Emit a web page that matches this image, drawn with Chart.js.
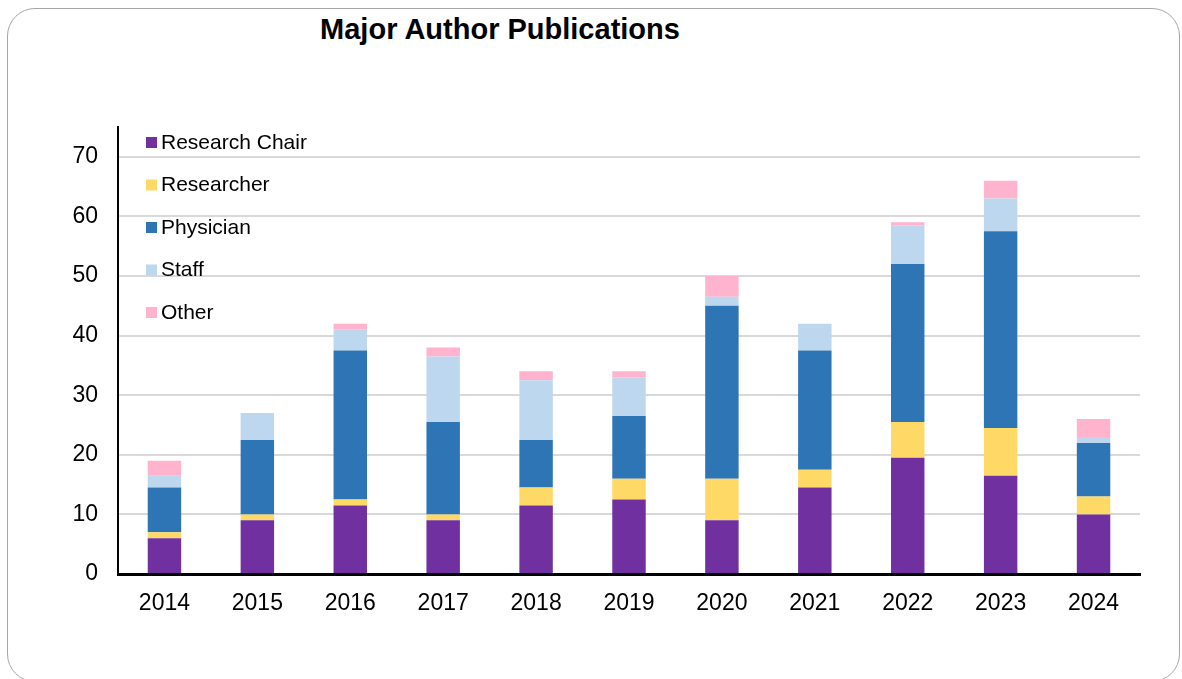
<!DOCTYPE html>
<html>
<head>
<meta charset="utf-8">
<script src="https://cdn.jsdelivr.net/npm/chart.js@4.4.1/dist/chart.umd.min.js"></script>
<style>
  html,body{margin:0;padding:0;background:#fff;}
  body{width:1182px;height:679px;position:relative;overflow:hidden;font-family:"Liberation Sans",Arial,sans-serif;}
  #frame{position:absolute;left:7px;top:8px;width:1173px;height:674px;border:1.5px solid #a6a6a6;border-radius:28px;box-sizing:border-box;}
  #title{position:absolute;left:250px;width:500px;top:13px;text-align:center;font-weight:bold;font-size:29px;color:#000;}
  #wrap{position:absolute;left:0;top:0;width:1182px;height:679px;}
</style>
</head>
<body>
<div id="frame"></div>
<div id="title">Major Author Publications</div>
<div id="wrap"><canvas id="chart"></canvas></div>
<script>
// data
const years = ["2014","2015","2016","2017","2018","2019","2020","2021","2022","2023","2024"];
const researchChair = [6, 9, 11.5, 9, 11.5, 12.5, 9, 14.5, 19.5, 16.5, 10];
const researcher    = [1, 1, 1, 1, 3, 3.5, 7, 3, 6, 8, 3];
const physician     = [7.5, 12.5, 25, 15.5, 8, 10.5, 29, 20, 26.5, 33, 9];
const staff         = [2, 4.5, 3.5, 11, 10, 6.5, 1.5, 4.5, 6.5, 5.5, 1];
const other         = [2.5, 0, 1, 1.5, 1.5, 1, 3.5, 0, 0.5, 3, 3];
const yTicks = [0, 10, 20, 30, 40, 50, 60, 70];

const colors = {
  chair:"#7030a0", researcher:"#ffd966", physician:"#2e75b6", staff:"#bdd7ee", other:"#ffb3cc"
};
const fontFam = "'Liberation Sans', Arial, sans-serif";

function ds(label,data,color){
  return {label, data, backgroundColor:color, borderWidth:0,
    barPercentage:0.36, categoryPercentage:1};
}

// legend drawn inside the plot, top-left
const innerLegend = {
  id:"innerLegend",
  afterDraw(chart){
    const ctx = chart.ctx;
    const x0 = chart.chartArea.left + 28;
    const y0 = chart.chartArea.top + 15;
    ctx.save();
    ctx.font = "21px " + fontFam;
    ctx.textBaseline = "middle";
    chart.data.datasets.forEach((d,i)=>{
      const y = y0 + i*42.5;
      ctx.fillStyle = d.backgroundColor;
      ctx.fillRect(x0, y-5, 11, 11);
      ctx.fillStyle = "#000";
      ctx.fillText(d.label, x0+15, y+1);
    });
    ctx.restore();
  }
};

new Chart(document.getElementById("chart"),{
  type:"bar",
  data:{
    labels:years,
    datasets:[
      ds("Research Chair",researchChair,colors.chair),
      ds("Researcher",researcher,colors.researcher),
      ds("Physician",physician,colors.physician),
      ds("Staff",staff,colors.staff),
      ds("Other",other,colors.other)
    ]
  },
  options:{
    responsive:true,
    maintainAspectRatio:false,
    animation:false,
    layout:{padding:{left:0,top:127,right:42,bottom:0}},
    plugins:{legend:{display:false},title:{display:false},tooltip:{enabled:false}},
    scales:{
      x:{
        stacked:true,
        grid:{display:false,drawTicks:false},
        border:{color:"#000",width:3},
        ticks:{color:"#000",font:{size:23,family:fontFam},padding:16},
        afterFit(s){ s.height = 105; }
      },
      y:{
        stacked:true,
        min:0,max:75,
        afterBuildTicks(s){ s.ticks = yTicks.map(v=>({value:v})); },
        grid:{color:c=>c.tick && c.tick.value===0 ? "rgba(0,0,0,0)" : "#d9d9d9",lineWidth:2,drawTicks:false},
        border:{color:"#000",width:2},
        ticks:{color:"#000",font:{size:23,family:fontFam},padding:20},
        afterFit(s){ s.width = 118; }
      }
    }
  },
  plugins:[innerLegend]
});
</script>
</body>
</html>
